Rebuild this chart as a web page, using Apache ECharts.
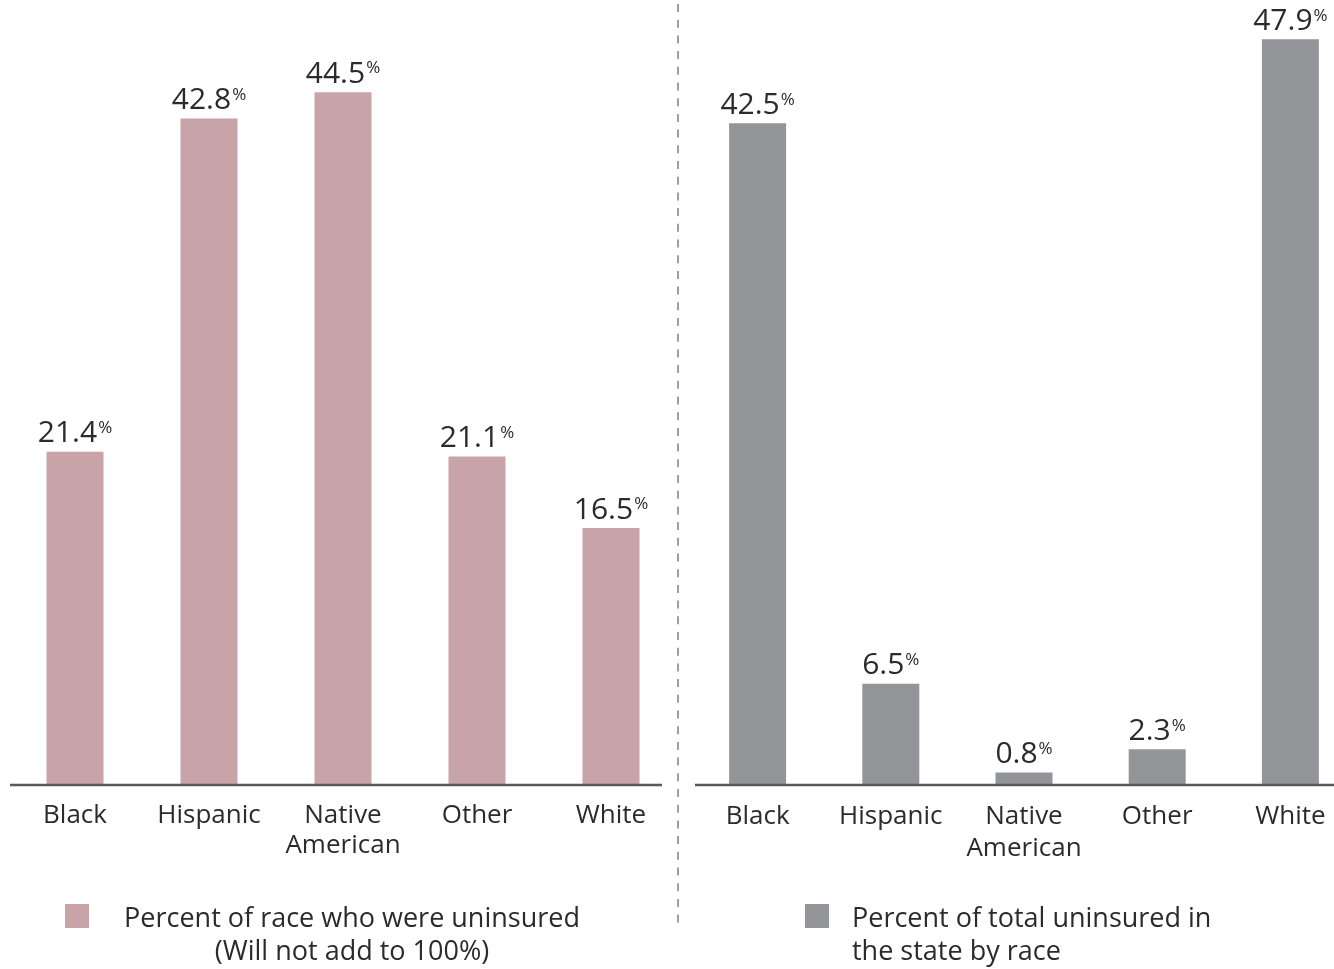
<!DOCTYPE html>
<html>
<head>
<meta charset="utf-8">
<script src="https://cdn.jsdelivr.net/npm/echarts@6/dist/echarts.min.js"></script>
<style>
  html, body { margin: 0; padding: 0; background: #ffffff; }
  #chart { width: 1334px; height: 969px; }
</style>
</head>
<body>
<div id="chart"></div>
<script>
// Race categories shown under both panels
const categories = ['Black', 'Hispanic', 'Native\nAmerican', 'Other', 'White'];
// Share of each race group that was uninsured
const pctOfRace = [21.4, 42.8, 44.5, 21.1, 16.5];
// Share of the state's total uninsured, by race
const pctOfTotal = [42.5, 6.5, 0.8, 2.3, 47.9];

const seriesNames = ['Percent of race who were uninsured', 'Percent of total uninsured in the state by race'];

const FONT = '"Open Sans", "Noto Sans", sans-serif';
const TEXT = '#2b2b2b';
const PINK = '#c8a4a8';
const GREY = '#939598';
const BASE_Y = 785;

const chart = echarts.init(document.getElementById('chart'));

const valueLabel = {
  show: true,
  position: 'top',
  distance: 2,
  formatter: p => '{v|' + p.value + '}{p|%}',
  rich: {
    v: { fontFamily: FONT, fontSize: 30, lineHeight: 32, color: TEXT },
    p: { fontFamily: FONT, fontSize: 17, lineHeight: 17, color: TEXT, verticalAlign: 'top', padding: [2, 0, 0, 1] }
  }
};

const catAxis = (gridIndex, lineHeight) => ({
  type: 'category',
  gridIndex,
  data: categories,
  axisLine: { show: false },
  axisTick: { show: false },
  axisLabel: {
    margin: 16,
    fontFamily: FONT,
    fontSize: 26,
    lineHeight,
    color: TEXT,
    interval: 0
  }
});

const valAxis = gridIndex => ({
  type: 'value',
  gridIndex,
  min: 0,
  max: 50,
  show: false,
  splitLine: { show: false }
});

chart.setOption({
  animation: false,
  backgroundColor: '#ffffff',
  grid: [
    { left: 8, width: 670, top: 6.5, bottom: 969 - BASE_Y, outerBoundsMode: 'none' },
    { left: 691, width: 666, top: 6.5, bottom: 969 - BASE_Y, outerBoundsMode: 'none' }
  ],
  xAxis: [catAxis(0, 30), catAxis(1, 32)],
  yAxis: [valAxis(0), valAxis(1)],
  legend: [
    {
      data: [seriesNames[0]],
      left: 65,
      top: 904,
      padding: 0,
      icon: 'rect',
      itemWidth: 24,
      itemHeight: 24,
      selectedMode: false,
      formatter: () => '{a|Percent of race who were uninsured}\n{a|(Will not add to 100%)}',
      textStyle: {
        padding: [40, 0, 0, 20],
        rich: {
          a: { width: 476, align: 'center', fontFamily: FONT, fontSize: 27, lineHeight: 33, color: TEXT }
        }
      }
    },
    {
      data: [seriesNames[1]],
      left: 805,
      top: 904,
      padding: 0,
      icon: 'rect',
      itemWidth: 24,
      itemHeight: 24,
      selectedMode: false,
      formatter: () => '{a|Percent of total uninsured in}\n{a|the state by race}',
      textStyle: {
        padding: [40, 0, 0, 18],
        rich: {
          a: { fontFamily: FONT, fontSize: 27, lineHeight: 33, color: TEXT }
        }
      }
    }
  ],
  series: [
    {
      name: seriesNames[0],
      type: 'bar',
      xAxisIndex: 0,
      yAxisIndex: 0,
      data: pctOfRace,
      barWidth: 57,
      itemStyle: { color: PINK },
      label: valueLabel
    },
    {
      name: seriesNames[1],
      type: 'bar',
      xAxisIndex: 1,
      yAxisIndex: 1,
      data: pctOfTotal,
      barWidth: 57,
      itemStyle: { color: GREY },
      label: valueLabel
    }
  ],
  graphic: [
    // baselines under each panel
    { type: 'line', shape: { x1: 10, y1: BASE_Y, x2: 662, y2: BASE_Y }, style: { stroke: '#5a5a5a', lineWidth: 2.5 }, z: 10 },
    { type: 'line', shape: { x1: 695, y1: BASE_Y, x2: 1334, y2: BASE_Y }, style: { stroke: '#5a5a5a', lineWidth: 2.5 }, z: 10 },
    // dashed divider between the two panels
    { type: 'line', shape: { x1: 678, y1: 4, x2: 678, y2: 930 }, style: { stroke: '#808080', lineWidth: 1.5, lineDash: [8, 7.7] }, z: 10 }
  ]
});
</script>
</body>
</html>
